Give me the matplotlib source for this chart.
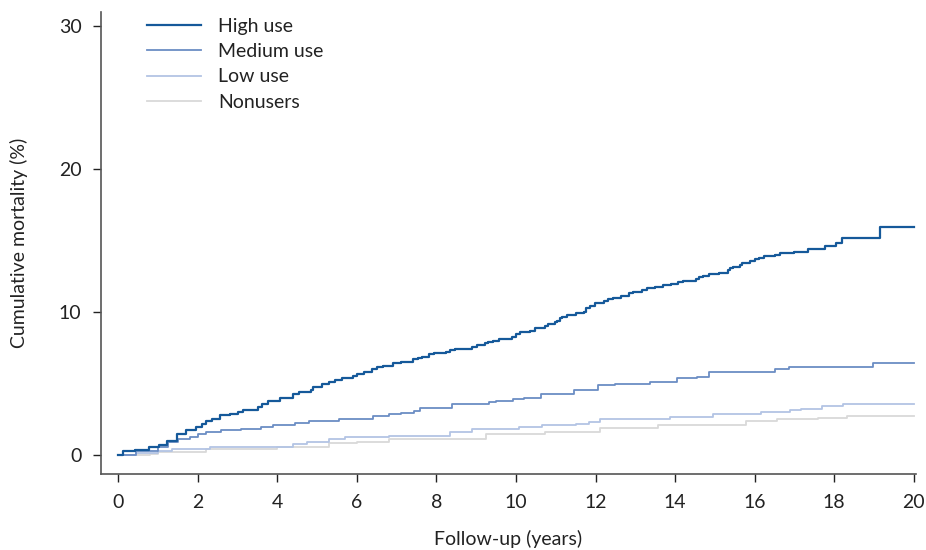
import matplotlib
matplotlib.use("Agg")
import matplotlib.pyplot as plt

plt.rcParams['font.family'] = ['Lato', 'DejaVu Sans']

# step times (years) and cumulative mortality (%)
high_t = [0, 0.13, 0.43, 0.78, 1.04, 1.22, 1.47, 1.7, 1.97, 2.1, 2.22, 2.35, 2.56, 2.82, 3.02, 3.14,
          3.52, 3.63, 3.77, 4.06, 4.39, 4.54, 4.84, 4.91, 5.13, 5.31, 5.45, 5.63, 5.9, 6.01, 6.19,
          6.38, 6.5, 6.65, 6.92, 7.11, 7.42, 7.53, 7.65, 7.82, 7.94, 8.24, 8.35, 8.47, 8.9, 9.03,
          9.22, 9.3, 9.43, 9.57, 9.91, 10.01, 10.09, 10.35, 10.47, 10.73, 10.81, 10.98, 11.04,
          11.1, 11.16, 11.29, 11.5, 11.7, 11.76, 11.85, 11.98, 12.21, 12.31, 12.43, 12.65, 12.83,
          12.93, 13.17, 13.29, 13.5, 13.69, 13.9, 14.07, 14.21, 14.52, 14.6, 14.69, 14.86, 15.1,
          15.32, 15.38, 15.46, 15.63, 15.69, 15.88, 16.01, 16.12, 16.24, 16.52, 16.63, 16.99,
          17.34, 17.76, 18.05, 18.2, 19.16, 20]
high_v = [0, 0.28, 0.35, 0.58, 0.72, 0.98, 1.51, 1.75, 1.98, 2.21, 2.38, 2.56, 2.8, 2.91, 3.03, 3.19,
          3.38, 3.61, 3.78, 4.01, 4.27, 4.4, 4.59, 4.78, 5.01, 5.13, 5.24, 5.41, 5.52, 5.66, 5.83,
          6.01, 6.13, 6.24, 6.45, 6.52, 6.69, 6.78, 6.87, 7.06, 7.11, 7.22, 7.34, 7.43, 7.57, 7.69,
          7.81, 7.88, 7.99, 8.13, 8.27, 8.44, 8.58, 8.67, 8.9, 9.02, 9.14, 9.28, 9.37,
          9.56, 9.67, 9.79, 9.91, 10.02, 10.26, 10.44, 10.65, 10.79, 10.89, 11.0, 11.12, 11.31,
          11.4, 11.54, 11.66, 11.77, 11.89, 12.0, 12.1, 12.21, 12.35, 12.47, 12.56, 12.68, 12.75,
          12.94, 13.06, 13.17, 13.29, 13.45, 13.57, 13.71, 13.8, 13.92, 14.03, 14.15, 14.22,
          14.45, 14.62, 14.87, 15.22, 15.97, 15.97]

medium_t = [0, 0.45, 1.0, 1.26, 1.51, 1.8, 2.01, 2.22, 2.6, 3.1, 3.6, 3.89, 4.44, 4.81, 5.56, 6.4,
            6.82, 7.11, 7.44, 7.6, 8.39, 9.32, 9.49, 9.93, 10.2, 10.62, 11.47, 12.05, 12.5, 13.36,
            14.04, 14.54, 14.84, 16.51, 16.86, 18.97, 20]
medium_v = [0, 0.3, 0.55, 0.93, 1.1, 1.24, 1.45, 1.59, 1.75, 1.86, 1.98, 2.14, 2.26, 2.4, 2.56, 2.75,
            2.87, 2.95, 3.07, 3.33, 3.6, 3.73, 3.8, 3.9, 4.03, 4.3, 4.55, 4.9, 5.0, 5.13,
            5.36, 5.48, 5.78, 6.01, 6.15, 6.43, 6.43]

low_t = [0, 0.45, 1.0, 1.35, 2.3, 4.4, 4.75, 5.3, 5.7, 6.8, 8.34, 8.9, 10.07, 10.66, 11.5, 11.83,
         12.12, 13.88, 14.95, 16.15, 16.9, 17.16, 17.68, 18.22, 20]
low_v = [0, 0.12, 0.3, 0.45, 0.6, 0.75, 0.9, 1.12, 1.25, 1.33, 1.63, 1.82, 1.98, 2.1, 2.21, 2.33,
         2.54, 2.68, 2.91, 3.03, 3.15, 3.26, 3.43, 3.6, 3.6]

non_t = [0, 0.8, 1.0, 2.2, 4.0, 5.3, 6.0, 6.8, 9.26, 10.72, 12.12, 13.56, 15.77, 16.55, 17.58,
         18.33, 20]
non_v = [0, 0.05, 0.2, 0.45, 0.6, 0.85, 0.95, 1.1, 1.47, 1.63, 1.91, 2.1, 2.38, 2.52, 2.63,
         2.75, 2.75]

labels = ["High use", "Medium use", "Low use", "Nonusers"]
colors = ["#15599a", "#6b8dc4", "#b3c4e4", "#d9d9d9"]

fig = plt.figure(figsize=(9.26, 5.5), dpi=100)
ax = fig.add_axes([0.109, 0.138, 0.880, 0.84])

# draw lightest first so the dark curve sits on top
series = [(high_t, high_v), (medium_t, medium_v), (low_t, low_v), (non_t, non_v)]
lines = []
for i in [3, 2, 1, 0]:
    t, v = series[i]
    ln, = ax.plot(t, v, drawstyle="steps-post", color=colors[i],
                  lw=1.6 if i == 0 else 1.3, label=labels[i], zorder=5 - i)
    lines.append(ln)
lines = lines[::-1]

ax.set_xlim(-0.43, 20.05)
ax.set_ylim(-1.33, 31)
ax.set_xticks(range(0, 21, 2))
ax.set_yticks([0, 10, 20, 30])
ax.set_xlabel("Follow-up (years)", fontsize=14, color="#222222", labelpad=14)
ax.set_ylabel("Cumulative mortality (%)", fontsize=14, color="#222222", labelpad=22)
ax.tick_params(labelsize=14, colors="#222222", length=6, width=1, pad=8)

for s in ["top", "right"]:
    ax.spines[s].set_visible(False)
for s in ["left", "bottom"]:
    ax.spines[s].set_color("#555555")
    ax.spines[s].set_linewidth(1.2)

leg = ax.legend(lines, labels, loc="upper left", bbox_to_anchor=(0.035, 1.025),
                frameon=False, fontsize=14, handlelength=2.8, handletextpad=0.85,
                labelspacing=0.42)
for t in leg.get_texts():
    t.set_color("#222222")

fig.savefig("out.png", dpi=100)
